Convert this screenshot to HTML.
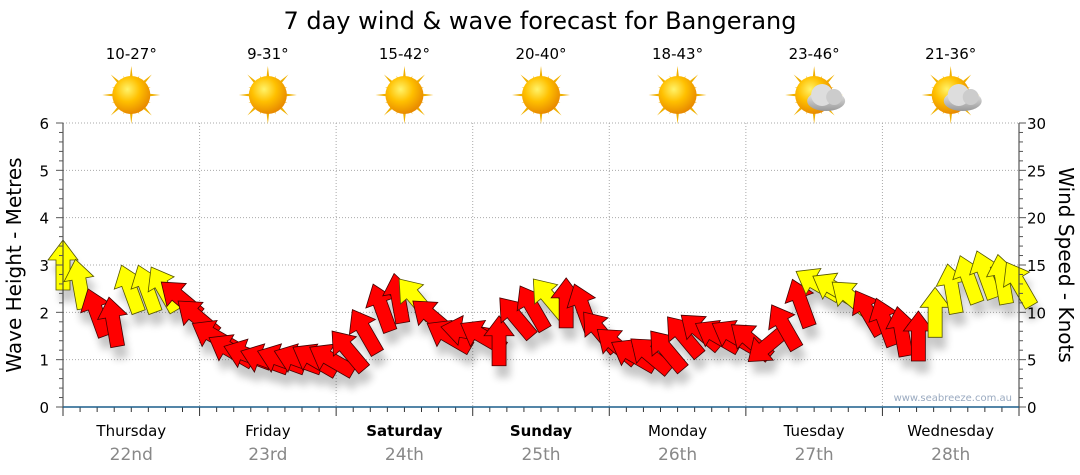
<!DOCTYPE html>
<html><head><meta charset="utf-8"><style>
body{margin:0;background:#fff;font-family:"DejaVu Sans","Liberation Sans",sans-serif}
svg{display:block}
</style></head><body>
<svg id="c" width="1080" height="475" viewBox="0 0 1080 475">
<defs>
<radialGradient id="sun" cx="40%" cy="35%" r="65%"><stop offset="0" stop-color="#fff36a"/><stop offset="0.5" stop-color="#ffc000"/><stop offset="1" stop-color="#e88a00"/></radialGradient>
<linearGradient id="cloud" x1="0" y1="0" x2="0" y2="1"><stop offset="0" stop-color="#eee"/><stop offset="1" stop-color="#999"/></linearGradient>
<filter id="sh" x="-50%" y="-50%" width="200%" height="200%"><feGaussianBlur stdDeviation="4"/></filter>
</defs>
<text x="540" y="29" font-size="24" text-anchor="middle" fill="#000">7 day wind &amp; wave forecast for Bangerang</text>
<g id="grid"></g>
<g id="shadows" opacity="0.22" filter="url(#sh)"></g>
<g id="marks"></g>
<g id="axes"></g>
<text x="1012" y="401" font-size="10" text-anchor="end" fill="#9aaac0">www.seabreeze.com.au</text>
<text transform="translate(21,265) rotate(-90)" font-size="20" text-anchor="middle">Wave Height - Metres</text>
<text transform="translate(1059,265) rotate(90)" font-size="20" text-anchor="middle">Wind Speed - Knots</text>
</svg>
<script>
const days=["Thursday","Friday","Saturday","Sunday","Monday","Tuesday","Wednesday"];
const dates=["22nd","23rd","24th","25th","26th","27th","28th"];
const temps=["10-27°","9-31°","15-42°","20-40°","18-43°","23-46°","21-36°"];
const cloudy=[0,0,0,0,0,1,1];
const heightTicks=[0,1,2,3,4,5,6];
const knotTicks=[0,5,10,15,20,25,30];
// wave height every 3 hours (m), direction (deg, 0=up), strong wind flag
const waveHeights=[3.0,2.6,2.0,1.8,2.5,2.5,2.5,2.3, 1.9,1.5,1.2,1.1,1.0,1.0,1.0,1.0, 1.0,1.2,1.6,2.1,2.3,2.3,1.9,1.5, 1.6,1.5,1.4,1.9,2.1,2.3,2.2,2.1, 1.6,1.3,1.1,1.1,1.2,1.5,1.6,1.5, 1.5,1.4,1.3,1.7,2.2,2.6,2.5,2.3,2.0, 1.8,1.6,1.5,2.0,2.5,2.7,2.8,2.7,2.6];
const directions=[0,-10,-20,-10,-20,-20,-30,-50, -50,-60,-60,-70,-70,-70,-70,-60, -60,-40,-30,-20,-10,-40,-50,-60, -80,-60,0,-40,-30,-40,0,-20, -40,-50,-60,-50,-40,-40,-50,-60, -60,-50,-130,-30,-20,-60,-60,-50,-30, -20,-10,0,0,-10,-20,-20,-10,-30];
const strongWind=[1,1,0,0,1,1,1,0, 0,0,0,0,0,0,0,0, 0,0,0,0,0,1,0,0, 0,0,0,0,0,1,0,0, 0,0,0,0,0,0,0,0, 0,0,0,0,0,1,1,1,0, 0,0,0,1,1,1,1,1,1];

const NS="http://www.w3.org/2000/svg";
const X0=63,X1=1019,Y0=407,Y6=123;
const dayW=(X1-X0)/7;
const xAt=i=>X0+i*(X1-X0)/(waveHeights.length-1);
const yAt=v=>Y0-v*(Y0-Y6)/6;
function el(t,a,p){const e=document.createElementNS(NS,t);for(const k in a)e.setAttribute(k,a[k]);(p||document.getElementById('c')).appendChild(e);return e;}
const grid=document.getElementById('grid'),axes=document.getElementById('axes'),marks=document.getElementById('marks'),shadows=document.getElementById('shadows');
heightTicks.forEach(v=>{if(v>0){const l=el('line',{x1:X0,x2:X1,y1:yAt(v),y2:yAt(v),stroke:'#aaa','stroke-dasharray':'1,2'},grid);

}
const t=el('text',{x:X0-14,y:yAt(v)+6,'font-size':15,'text-anchor':'end'},axes);t.textContent=v;

});
knotTicks.forEach(v=>{const t=el('text',{x:X1+8,y:Y0-v/30*(Y0-Y6)+6,'font-size':15},axes);t.textContent=v;

});
for(let d=1;d<7;d++){const l=el('line',{x1:X0+d*dayW,x2:X0+d*dayW,y1:Y6,y2:Y0,stroke:'#aaa','stroke-dasharray':'1,2'},grid);

}
el('line',{x1:X0,x2:X0,y1:Y6,y2:Y0,stroke:'#333'},axes);
el('line',{x1:X1,x2:X1,y1:Y6,y2:Y0,stroke:'#333'},axes);
for(let i=0;i<=30;i++){const y=yAt(i/5);el('line',{x1:X0-(i%5?4:7),x2:X0,y1:y,y2:y,stroke:'#555'},axes);
const y2=Y0-i/30*(Y0-Y6);el('line',{x1:X1,x2:X1+(i%5?4:7),y1:y2,y2:y2,stroke:'#555'},axes);}
for(let i=0;i<=56;i++){const x=X0+i*dayW/8;el('line',{x1:x,x2:x,y1:Y0,y2:Y0+(i%8?5:9),stroke:'#333'},axes);}
el('line',{x1:X0,x2:X1,y1:Y0,y2:Y0,stroke:'#1b5e8c','stroke-width':1.5},axes);
days.forEach((d,i)=>{const cx=X0+(i+.5)*dayW;
const t=el('text',{x:cx,y:436,'font-size':15,'text-anchor':'middle','font-weight':(i==2||i==3)?'bold':'normal'});t.textContent=d;


const t2=el('text',{x:cx,y:460,'font-size':17,'text-anchor':'middle',fill:'#888'});t2.textContent=dates[i];


const t3=el('text',{x:cx,y:59,'font-size':15,'text-anchor':'middle'});t3.textContent=temps[i];


const g=el('g',{transform:`translate(${cx},95)`});


for(let k=0;k<16;k++){const a=k*22.5,L=k%2?21:29;el('polygon',{points:`-3.5,0 0,-${L} 3.5,0`,fill:'#f0b000',transform:`rotate(${a})`},g);}
el('circle',{r:19,fill:'url(#sun)'},g);
if(cloudy[i]){el('ellipse',{cx:12,cy:6,rx:19,ry:10,fill:'url(#cloud)'},g);el('circle',{cx:8,cy:0,r:11,fill:'#ddd'},g);el('circle',{cx:20,cy:2,r:8,fill:'#ccc'},g);}
});
const arrowPts="0,-25 15,-5 7,-5 7,25 -7,25 -7,-5 -15,-5";
waveHeights.forEach((v,i)=>{const x=xAt(i),y=yAt(v);
el('polygon',{points:arrowPts,fill:'#000',transform:`translate(${x+4},${y+12}) rotate(${directions[i]})`},shadows);
const p=el('polygon',{points:arrowPts,fill:strongWind[i]?'#ffff00':'#ff0000',stroke:strongWind[i]?'#555500':'#400','stroke-width':0.8,transform:`translate(${x},${y}) rotate(${directions[i]})`},marks);

});
</script>
</body></html>
